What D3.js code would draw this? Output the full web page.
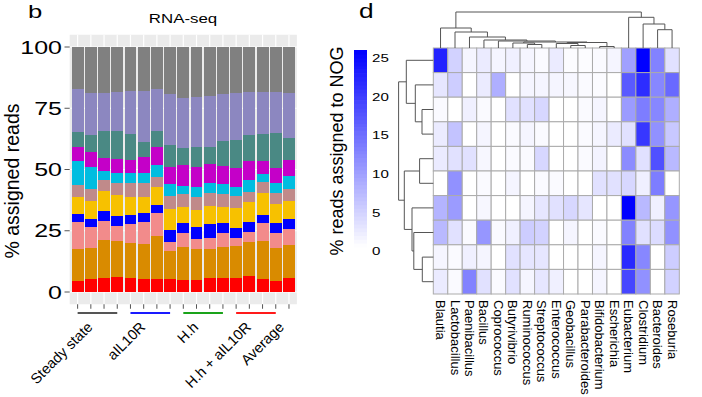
<!DOCTYPE html>
<html>
<head>
<meta charset="utf-8">
<script src="https://cdn.jsdelivr.net/npm/d3@7"></script>
<style>
  body { margin: 0; background: #fff; }
  svg text { font-family: "Liberation Sans", Arial, Helvetica, sans-serif; fill: #000; }
</style>
</head>
<body>
<svg id="fig" width="702" height="397"></svg>

<script>
// ---------- panel b : RNA-seq stacked bars ----------
var sampleIds = ["ss1","ss2","ss3","ss4","ab1","ab2","ab3","ab4",
                 "hh1","hh2","hh3","hh4","hha1","hha2","hha3","hha4","avg"];
var groupNames = ["Steady state", "aIL10R", "H.h", "H.h + aIL10R", "Average"];
var groupOf    = [0,0,0,0, 1,1,1,1, 2,2,2,2, 3,3,3,3, 4];
var yTicks = [0, 25, 50, 75, 100];

// % of assigned reads per taxon, bottom layer first
var redVals      = [4.6,5.2,5.7,6.0,5.6,5.2,5.2,5.4,4.9,4.9,5.6,5.6,5.6,6.5,5.5,4.6,5.6];
var orangeVals   = [12.8,12.6,15.5,14.9,14.3,14.3,17.8,11.3,13.6,12.5,11.8,12.6,13.2,14.0,15.3,13.2,13.6];
var salmonVals   = [11.3,8.6,7.9,6.2,7.9,9.2,9.4,3.8,5.5,4.1,4.8,5.8,3.1,3.9,7.2,6.2,6.4];
var blueVals     = [3.1,3.4,4.0,3.9,3.6,3.4,3.1,4.8,4.0,4.9,5.6,4.3,4.3,4.3,3.4,4.0,4.1];
var goldVals     = [6.9,7.3,8.1,8.6,7.5,6.8,7.5,8.5,6.6,7.1,7.3,6.3,8.0,8.2,8.9,7.9,7.6];
var rosyVals     = [5.0,4.9,4.5,5.0,5.7,5.5,4.1,5.4,5.3,5.4,5.2,5.4,5.0,4.0,4.7,4.6,4.7];
var cyanVals     = [9.8,9.2,3.8,3.8,3.8,4.0,4.7,4.8,3.4,3.8,4.3,4.0,3.8,4.8,3.0,4.1,5.3];
var magentaVals  = [5.8,6.1,5.3,5.9,5.5,6.8,7.5,7.2,8.5,8.5,7.5,7.4,7.5,7.8,5.5,5.9,6.6];
var tealVals     = [6.1,6.8,10.9,11.4,10.6,6.1,6.5,8.8,6.9,8.1,7.2,10.2,11.5,10.6,10.9,14.2,9.1];
var lavenderVals = [17.5,17.2,15.6,16.1,17.5,20.7,16.9,20.8,20.6,20.4,20.7,19.1,19.1,17.7,17.4,17.1,18.1];
var greyVals     = [17.1,18.7,18.7,18.2,18.0,18.0,17.3,19.2,20.7,20.3,20.0,19.3,18.9,18.2,18.2,18.2,18.9];

var layerKeys = ["red","orange","salmon","blue","gold","rosy","cyan","magenta","teal","lavender","grey"];
var layerVals = [redVals, orangeVals, salmonVals, blueVals, goldVals, rosyVals,
                 cyanVals, magentaVals, tealVals, lavenderVals, greyVals];
var layerColors = ["#ff0000","#d98b00","#f28b8b","#0000ff","#f7c100","#c08a8a",
                   "#00bde0","#c400c8","#4a8984","#8c87c0","#808080"];

// ---------- panel d : heatmap ----------
var genera = ["Blautia","Lactobacillus","Paenibacillus","Bacillus","Coprococcus","Butyrivibrio",
              "Ruminococcus","Streptococcus","Enterococcus","Geobacillus","Parabacteroides",
              "Bifidobacterium","Escherichia","Eubacterium","Clostridium","Bacteroides","Roseburia"];
var nogRows = [
  [22, 4.5, 1, 2, 1, 1.5, 1, 0.5, 2, 0.3, 0.3, 0.5, 1, 9.5, 25.5, 12.5, 3],
  [2.5, 5, 0, 2, 8, 0, 1, 1, 1, 0.8, 0.5, 0.4, 0, 16.5, 21, 12, 15],
  [0.5, 0, 1.5, 0.5, 0, 3, 3, 4, 0, 0, 0.5, 1, 0, 10, 13, 12, 8],
  [2, 6, 0, 1, 0, 0.5, 1, 0.5, 0, 0, 0.5, 1, 2, 3, 20, 11, 5.5],
  [2, 3, 3, 0.8, 0, 0.5, 0.5, 4, 0, 0, 0.5, 1.2, 0, 11.5, 3, 17.5, 7],
  [0, 11, 0, 0.5, 0, 1, 0, 0.5, 0.5, 0, 0, 3, 3, 4, 1.5, 13, 0],
  [7.5, 10, 0, 0.8, 0, 0, 1, 2.5, 3, 4, 2.5, 0, 0, 25.5, 7, 1.5, 10.5],
  [7, 3, 0.5, 10.5, 0.5, 1.5, 5, 4.5, 0, 1, 0, 0.5, 0, 12.5, 3, 3.5, 11],
  [1, 0.5, 1.5, 1, 0, 3, 2.5, 2.5, 0, 0, 0, 1, 0, 21.5, 12, 0, 5],
  [2, 0.5, 12.5, 3, 0.5, 3, 1, 2.5, 1.5, 0, 0, 1, 0, 18.5, 11, 0, 4.5]
];
var legendTicks = [0, 5, 10, 15, 20, 25];

// clustering trees (merge heights), leaves are column / row indices
var colTree = {h: 36, c: [
  {h: 20, c: [0, {h: 16, c: [1, {h: 11, c: [2, {h: 8, c: [3, {h: 7, c: [4, {h: 6, c: [
      {h: 5, c: [5, {h: 3.5, c: [6, 7]}]},
      {h: 5.5, c: [{h: 4.5, c: [8, {h: 2.5, c: [9, 10]}]}, {h: 1.5, c: [11, 12]}]}
  ]}]}]}]}]}]},
  {h: 30.7, c: [13, {h: 24, c: [14, {h: 18.3, c: [15, 16]}]}]}
]};
var rowTree = {h: 34.7, c: [
  {h: 27, c: [0, {h: 18, c: [1, {h: 11.3, c: [2, 3]}]}]},
  {h: 29, c: [{h: 13.7, c: [4, 5]}, {h: 21.3, c: [6, {h: 19.5, c: [7, {h: 11, c: [8, 9]}]}]}]}
]};

var svg = d3.select("#fig");

// =============== panel b ===============
var x = d3.scaleBand().domain(sampleIds).range([69.7, 296.9]).paddingInner(0.1).paddingOuter(0.15);
var y = d3.scaleLinear().domain([0, 100]).range([292, 47]);
var bw = x.bandwidth();

var tableRows = sampleIds.map(function(id, i) {
  var r = {id: id};
  layerKeys.forEach(function(k, j) { r[k] = layerVals[j][i]; });
  return r;
});
var series = d3.stack().keys(layerKeys)(tableRows);

var b = svg.append("g");
b.append("rect")
  .attr("x", 69.7).attr("y", y(105))
  .attr("width", 296.9 - 69.7).attr("height", y(-5) - y(105))
  .attr("fill", "#ebebeb");

b.selectAll(".hgrid").data(yTicks).enter().append("line")
  .attr("x1", 69.7).attr("x2", 296.9)
  .attr("y1", function(d) { return y(d); }).attr("y2", function(d) { return y(d); })
  .attr("stroke", "#fff").attr("stroke-width", 1.2);
b.selectAll(".vgrid").data(sampleIds).enter().append("line")
  .attr("x1", function(d) { return x(d) + bw / 2; }).attr("x2", function(d) { return x(d) + bw / 2; })
  .attr("y1", y(105)).attr("y2", y(-5))
  .attr("stroke", "#fff").attr("stroke-width", 1.2);

b.selectAll(".layer").data(series).enter().append("g")
    .attr("fill", function(d, i) { return layerColors[i]; })
  .selectAll("rect").data(function(d) { return d; }).enter().append("rect")
    .attr("x", function(d) { return x(d.data.id); })
    .attr("width", bw)
    .attr("y", function(d) { return y(d[1]); })
    .attr("height", function(d) { return y(d[0]) - y(d[1]); })
    .attr("shape-rendering", "crispEdges");

// y axis
b.selectAll(".ytick").data(yTicks).enter().append("line")
  .attr("x1", 64.5).attr("x2", 69.7)
  .attr("y1", function(d) { return y(d); }).attr("y2", function(d) { return y(d); })
  .attr("stroke", "#555").attr("stroke-width", 1);
b.selectAll(".ylab").data(yTicks).enter().append("g")
    .attr("transform", function(d) { return "translate(62," + y(d) + ") scale(1.35,1)"; })
  .append("text")
    .attr("text-anchor", "end").attr("dy", "0.36em")
    .style("font-size", "18.5px")
    .text(function(d) { return d; });

// x ticks
b.selectAll(".xtick").data(sampleIds).enter().append("line")
  .attr("x1", function(d) { return x(d) + bw / 2; }).attr("x2", function(d) { return x(d) + bw / 2; })
  .attr("y1", y(-5)).attr("y2", y(-5) + 4.5)
  .attr("stroke", "#555").attr("stroke-width", 1);

// group bars under the axis
var groupLineColors = ["#555555", "#1a1aff", "#1aa31a", "#ff1a1a"];
[0, 1, 2, 3].forEach(function(g) {
  var ids = sampleIds.filter(function(d, i) { return groupOf[i] === g; });
  b.append("line")
    .attr("x1", x(ids[0]) + bw / 2).attr("x2", x(ids[ids.length - 1]) + bw / 2)
    .attr("y1", 313).attr("y2", 313)
    .attr("stroke", groupLineColors[g]).attr("stroke-width", 2);
});

groupNames.forEach(function(name, g) {
  var cx = d3.mean(sampleIds.filter(function(d, i) { return groupOf[i] === g; }),
                   function(d) { return x(d) + bw / 2; });
  b.append("text")
    .attr("transform", "translate(" + (cx - 4) + ",328) rotate(-45)")
    .attr("text-anchor", "end")
    .style("font-size", "14.5px")
    .text(name);
});

b.append("text")
  .attr("transform", "translate(19,181) rotate(-90)")
  .attr("text-anchor", "middle")
  .style("font-size", "19.5px")
  .text("% assigned reads");

b.append("g").attr("transform", "translate(183,23) scale(1.35,1)")
  .append("text").attr("text-anchor", "middle").style("font-size", "12.5px").text("RNA-seq");
b.append("g").attr("transform", "translate(28,18) scale(1.35,1)")
  .append("text").style("font-size", "19px").text("b");

// =============== panel d ===============
var d = svg.append("g");
var hx = d3.scaleBand().domain(d3.range(genera.length)).range([433.3, 679.3]);
var hy = d3.scaleBand().domain(d3.range(nogRows.length)).range([48, 294]);
var color = d3.scaleLinear().domain([0, 25.5]).range(["#ffffff", "#0000ff"]);

d.selectAll(".hrow").data(nogRows).enter().append("g")
    .attr("transform", function(r, i) { return "translate(0," + hy(i) + ")"; })
  .selectAll("rect").data(function(r) { return r; }).enter().append("rect")
    .attr("x", function(v, j) { return hx(j); })
    .attr("width", hx.bandwidth()).attr("height", hy.bandwidth())
    .attr("fill", function(v) { return color(v); })
    .attr("stroke", "#ababab").attr("stroke-width", 1);

d.selectAll(".clab").data(genera).enter().append("text")
  .attr("transform", function(g, j) { return "translate(" + (hx(j) + hx.bandwidth() / 2) + ",300) rotate(90)"; })
  .attr("dominant-baseline", "central")
  .style("font-size", "13px")
  .text(function(g) { return g; });

// dendrograms
function layoutTree(tree, leafPos) {
  var root = d3.hierarchy(tree, function(n) { return n.c; });
  root.eachAfter(function(n) {
    n.pos = n.children ? d3.mean(n.children, function(c) { return c.pos; }) : leafPos(n.data);
    n.ht = n.children ? n.data.h : 0;
  });
  return root;
}

var colRoot = layoutTree(colTree, function(j) { return hx(j) + hx.bandwidth() / 2; });
var hs = d3.scaleLinear().domain([0, 36]).range([48, 12]);
d.selectAll(".cden").data(colRoot.descendants().filter(function(n) { return n.children; }))
  .enter().append("path")
  .attr("d", function(n) {
    var a = n.children[0], c = n.children[1];
    return "M" + a.pos + "," + hs(a.ht) + "V" + hs(n.ht) + "H" + c.pos + "V" + hs(c.ht);
  })
  .attr("fill", "none").attr("stroke", "#555").attr("stroke-width", 1);

var rowRoot = layoutTree(rowTree, function(i) { return hy(i) + hy.bandwidth() / 2; });
var hr = d3.scaleLinear().domain([0, 34.7]).range([433.3, 398.6]);
d.selectAll(".rden").data(rowRoot.descendants().filter(function(n) { return n.children; }))
  .enter().append("path")
  .attr("d", function(n) {
    var a = n.children[0], c = n.children[1];
    return "M" + hr(a.ht) + "," + a.pos + "H" + hr(n.ht) + "V" + c.pos + "H" + hr(c.ht);
  })
  .attr("fill", "none").attr("stroke", "#555").attr("stroke-width", 1);

// colour key
var ls = d3.scaleLinear().domain([0, 25.5]).range([247, 50]);
d.selectAll(".key").data(d3.range(0, 25.5, 0.5)).enter().append("rect")
  .attr("x", 354).attr("width", 13)
  .attr("y", function(v) { return ls(v + 0.5); })
  .attr("height", function(v) { return ls(v) - ls(v + 0.5) + 0.6; })
  .attr("fill", function(v) { return color(v + 0.25); });
d.selectAll(".keylab").data(legendTicks).enter().append("g")
    .attr("transform", function(v) { return "translate(372," + (ls(v) + 4) + ") scale(1.3,1)"; })
  .append("text")
    .attr("dy", "0.36em")
    .style("font-size", "11.6px")
    .text(function(v) { return v; });

d.append("text")
  .attr("transform", "translate(343,151) rotate(-90)")
  .attr("text-anchor", "middle")
  .style("font-size", "18px")
  .text("% reads assigned to NOG");

d.append("g").attr("transform", "translate(359,18) scale(1.35,1)")
  .append("text").style("font-size", "19.5px").text("d");
</script>
</body>
</html>
